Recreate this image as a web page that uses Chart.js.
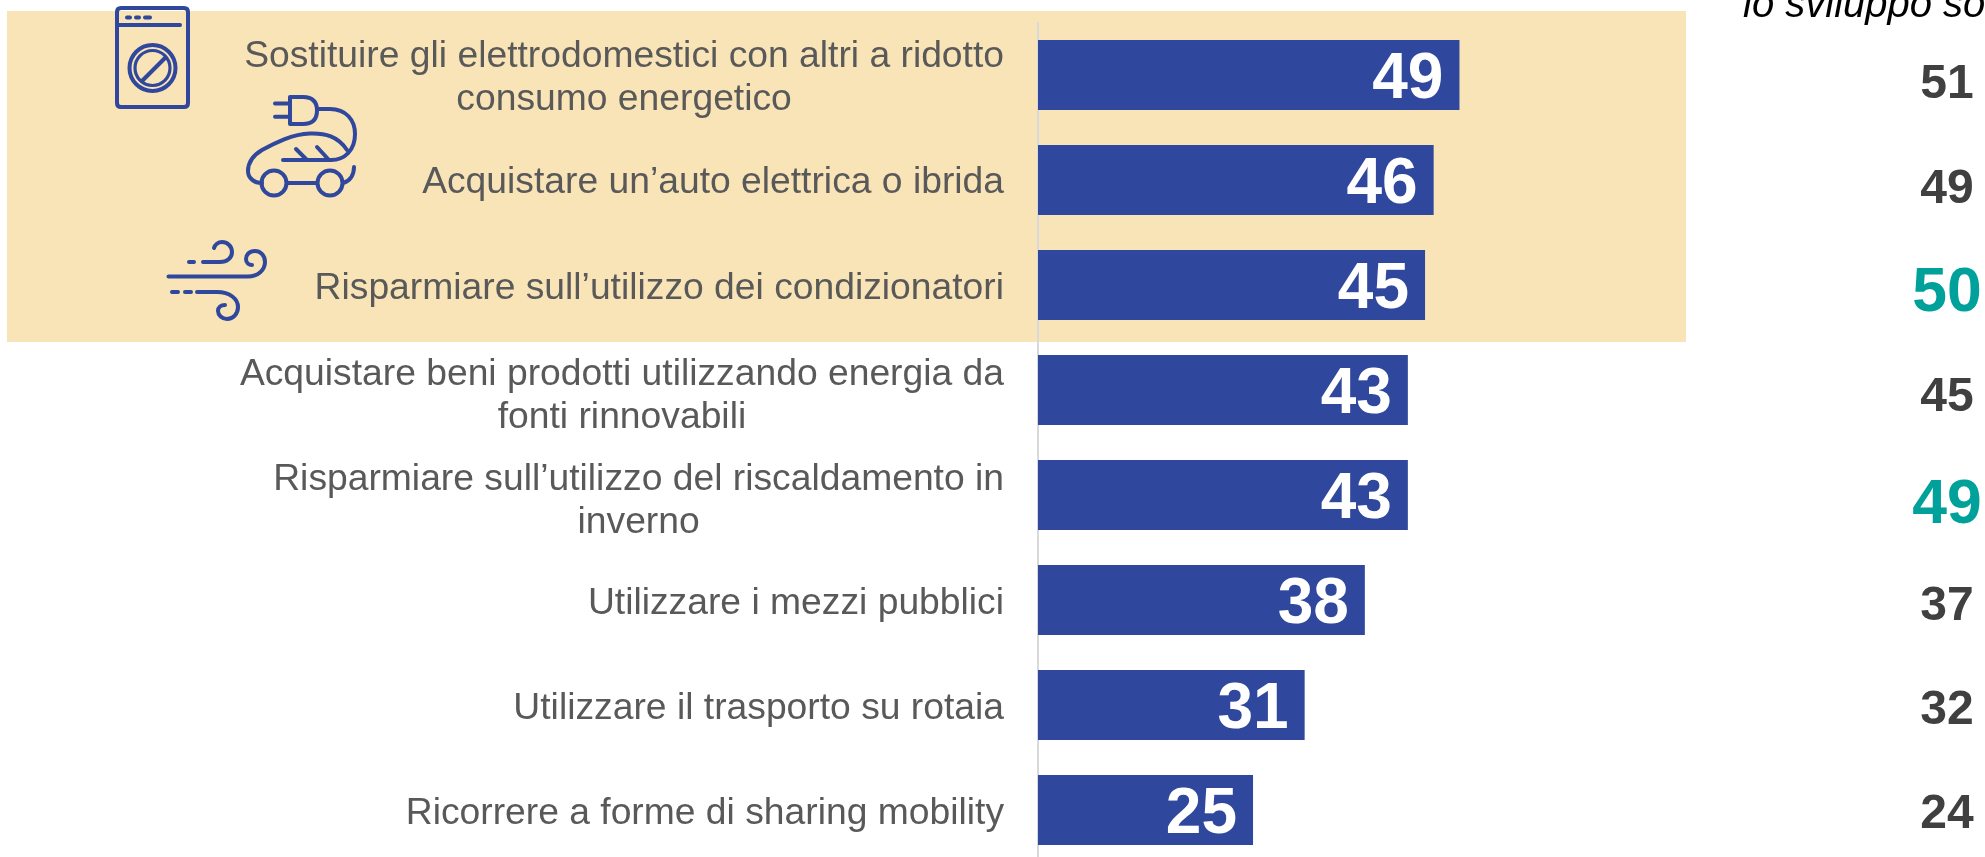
<!DOCTYPE html>
<html><head><meta charset="utf-8">
<style>html,body{margin:0;padding:0;background:#fff;overflow:hidden;width:1985px;height:857px}
#w{position:relative;width:1985px;height:870px}</style>
<script src="https://cdn.jsdelivr.net/npm/chart.js@4"></script></head>
<body><div id="w"><canvas id="c"></canvas></div>
<script>
const categories=[
 ["Sostituire gli elettrodomestici con altri a ridotto","consumo energetico"],
 ["Acquistare un’auto elettrica o ibrida"],
 ["Risparmiare sull’utilizzo dei condizionatori"],
 ["Acquistare beni prodotti utilizzando energia da","fonti rinnovabili"],
 ["Risparmiare sull’utilizzo del riscaldamento in","inverno"],
 ["Utilizzare i mezzi pubblici"],
 ["Utilizzare il trasporto su rotaia"],
 ["Ricorrere a forme di sharing mobility"]];
const values=[49,46,45,43,43,38,31,25];
const sideValues=[51,49,50,45,49,37,32,24];
const sideHighlighted=[false,false,true,false,true,false,false,false];
const sideTitle="lo sviluppo sostenibile";
const SANS='"Liberation Sans",Arial,sans-serif';
const BLUE='#2F479C';
const overlay={id:'overlay',
 beforeDraw(ch){const c=ch.ctx;c.save();c.fillStyle='#F9E4B7';c.fillRect(7,11,1679,331);c.restore();},
 afterDraw(ch){const c=ch.ctx,y=ch.scales.y;c.save();
  c.textBaseline='middle';
  c.font='37.25px '+SANS;c.fillStyle='#595959';
  categories.forEach((ls,i)=>{const p=y.getPixelForValue(i);
    const w=Math.max(...ls.map(l=>c.measureText(l).width));
    const cx=1004-w/2;c.textAlign='center';
    const off=i<2?3:(i==3||i==4)?6:4;
    ls.forEach((l,j)=>{c.fillText(l,cx,p+off+(j-(ls.length-1)/2)*42.5);});});
  c.textAlign='center';
  sideValues.forEach((v,i)=>{const p=y.getPixelForValue(i);
    const h=sideHighlighted[i];
    c.font='bold '+(h?62.5:48)+'px '+SANS;c.fillStyle=h?'#00A19A':'#404040';
    c.fillText(String(v),1947,p+(h?(i==2?9:11):10-0.7*i));});
  c.textAlign='left';c.textBaseline='alphabetic';c.font='italic 40px '+SANS;c.fillStyle='#000';
  c.fillText(sideTitle,1743,17);
  c.strokeStyle=BLUE;c.lineWidth=4;c.lineCap='round';c.lineJoin='round';
  const s=d=>c.stroke(new Path2D(d));
  s('M121 8H184Q188 8 188 12V103Q188 107 184 107H121Q117 107 117 103V12Q117 8 121 8Z');
  s('M119 25H180');s('M127 17.5H130M136 17.5H139M145 17.5H150');
  s('M152.5 45A23 23 0 1 0 152.5 91A23 23 0 1 0 152.5 45Z');
  c.save();c.lineWidth=3.2;s('M152.5 50.500A17.500 17.500 0 1 0 152.5 85.500A17.500 17.500 0 1 0 152.5 50.500Z');c.restore();
  s('M142 81L165 58');
  s('M275 103.5H290M275 116.7H290');
  s('M290 97H303Q317 97 317 110.5Q317 124 303 124H290Z');
  s('M317 109H330C346 109 355 120 355 134C355 150 345 160 331 160H283');
  s('M296 149L307 160M317 147L329 160');
  s('M347 150C338 136 325 133 310 133.5C292 134 275 143 262 150C252 156 248 163 248 171C248 178 254 183 262 183');
  s('M286.500 183A12.5 12.5 0 1 0 261.500 183A12.5 12.5 0 1 0 286.500 183Z');
  s('M342.500 183A12.5 12.5 0 1 0 317.500 183A12.5 12.5 0 1 0 342.500 183Z');
  s('M287 183H317');s('M343 183C350 181 354 175 354 167');
  s('M168.500 276.500H248C258 276.500 265 270 265 262C265 255 260 251 255 251C249 251 246 255 246 259C246 263 249 265 252 265');
  s('M189 262H194M203 262H220C227 262 232 258 232 252C232 246 227 242 222 242C218 242 215 245 214 248');
  s('M172 292H178M185 292H191M197 292H217C230 292 238 299 238 307C238 314 233 319 227 319C222 319 218 315 218 311C218 307 221 305 225 305');
  c.restore();}
};
Chart.defaults.font.family=SANS;
new Chart(document.getElementById('c'),{type:'bar',
 data:{labels:categories.map(l=>l.join(' ')),datasets:[{data:values,backgroundColor:BLUE,borderWidth:0,barPercentage:2/3,categoryPercentage:1}]},
 options:{indexAxis:'y',responsive:true,maintainAspectRatio:false,animation:false,
  layout:{padding:{left:1038,top:22.5,bottom:7.5,right:0}},
  plugins:{legend:{display:false},tooltip:{enabled:false}},
  scales:{
   x:{min:0,max:110.1,display:false},
   y:{position:'left',ticks:{display:false},grid:{display:false,drawTicks:false},border:{display:true,color:'#D9D9D9',width:2}}}
 },plugins:[overlay,{id:'vals',afterDatasetsDraw(ch){const c=ch.ctx,m=ch.getDatasetMeta(0);c.save();
   c.font='bold 64px '+SANS;c.fillStyle='#fff';c.textAlign='right';c.textBaseline='middle';
   m.data.forEach((b,i)=>c.fillText(String(values[i]),b.x-16,b.y+5));c.restore();}}]});
</script></body></html>
